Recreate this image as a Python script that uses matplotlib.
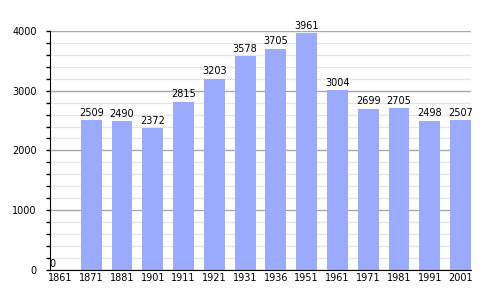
import matplotlib
matplotlib.use('Agg')
import matplotlib.pyplot as plt
from matplotlib.ticker import MultipleLocator

years = ['1861', '1871', '1881', '1901', '1911', '1921', '1931',
         '1936', '1951', '1961', '1971', '1981', '1991', '2001']
population = [0, 2509, 2490, 2372, 2815, 3203, 3578,
              3705, 3961, 3004, 2699, 2705, 2498, 2507]

fig = plt.figure(figsize=(5, 3), dpi=100)
ax = fig.add_axes([0.1, 0.1, 0.842, 0.797])

x = range(len(years))
ax.bar(x, population, width=0.68, color='#99aaff', zorder=2)

for i, v in enumerate(population):
    if v == 0:
        ax.text(i - 0.25, v + 20, str(v), ha='center', va='bottom', fontsize=7)
    else:
        ax.text(i, v + 40, str(v), ha='center', va='bottom', fontsize=7)

ax.set_xlim(-0.34, 13.34)
ax.set_ylim(0, 4000)
ax.set_xticks(list(x))
ax.set_xticklabels(years, fontsize=7)
ax.yaxis.set_major_locator(MultipleLocator(1000))
ax.yaxis.set_minor_locator(MultipleLocator(200))
ax.tick_params(axis='y', which='major', labelsize=7, length=3, width=1, pad=6.5)
ax.tick_params(axis='y', which='minor', length=3, width=1)
ax.tick_params(axis='x', length=0, pad=2)

ax.grid(axis='y', which='major', color='#a8a8a8', linewidth=1, zorder=0)
ax.grid(axis='y', which='minor', color='#e6e6e6', linewidth=1, zorder=0)
ax.set_axisbelow(True)

for s in ['top', 'right']:
    ax.spines[s].set_visible(False)
ax.spines['left'].set_color('black')
ax.spines['bottom'].set_color('black')
ax.spines['bottom'].set_zorder(3)

fig.savefig('out.png')
